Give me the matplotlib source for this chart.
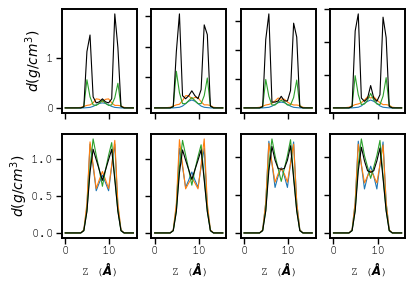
import matplotlib
matplotlib.use('Agg')
import matplotlib.pyplot as plt

plt.rcParams['font.family'] = ['Nimbus Mono PS', 'FreeMono', 'Courier New', 'Liberation Mono', 'DejaVu Sans Mono']

# z positions of the density bins (Angstrom)
z = [0.0, 0.7, 1.4, 2.1, 2.8, 3.5, 4.2, 4.9, 5.6, 6.3, 7.0, 7.7, 8.4,
     9.1, 9.8, 10.5, 11.2, 11.9, 12.6, 13.3, 14.0, 14.7, 15.4]

# top row: densities of the separate components
blue_top = [
    [0, 0, 0, 0, 0, 0, 0, 0.005, 0.01, 0.03, 0.06, 0.09, 0.1, 0.09, 0.06, 0.03, 0.01, 0.005, 0, 0, 0, 0, 0],
    [0, 0, 0, 0, 0, 0, 0, 0.005, 0.01, 0.03, 0.07, 0.11, 0.13, 0.11, 0.07, 0.03, 0.01, 0.005, 0, 0, 0, 0, 0],
    [0, 0, 0, 0, 0, 0, 0, 0.005, 0.01, 0.03, 0.06, 0.09, 0.1, 0.09, 0.06, 0.03, 0.01, 0.005, 0, 0, 0, 0, 0],
    [0, 0, 0, 0, 0, 0, 0, 0.005, 0.01, 0.03, 0.07, 0.1, 0.12, 0.1, 0.07, 0.03, 0.01, 0.005, 0, 0, 0, 0, 0],
]
orange_top = [
    [0, 0, 0, 0, 0.005, 0.01, 0.03, 0.05, 0.06, 0.1, 0.18, 0.17, 0.12, 0.17, 0.18, 0.1, 0.05, 0.05, 0.04, 0.01, 0.005, 0, 0],
    [0, 0, 0, 0, 0.005, 0.01, 0.03, 0.05, 0.06, 0.12, 0.2, 0.2, 0.15, 0.17, 0.17, 0.1, 0.05, 0.05, 0.04, 0.01, 0.005, 0, 0],
    [0, 0, 0, 0, 0.005, 0.01, 0.03, 0.05, 0.06, 0.08, 0.12, 0.17, 0.15, 0.15, 0.1, 0.07, 0.05, 0.05, 0.04, 0.01, 0.005, 0, 0],
    [0, 0, 0, 0, 0.005, 0.01, 0.03, 0.05, 0.06, 0.08, 0.12, 0.17, 0.15, 0.17, 0.12, 0.08, 0.05, 0.05, 0.04, 0.01, 0.005, 0, 0],
]
green_top = [
    [0, 0, 0, 0, 0, 0, 0.02, 0.56, 0.22, 0.06, 0.05, 0.09, 0.15, 0.09, 0.05, 0.06, 0.2, 0.49, 0.03, 0, 0, 0, 0],
    [0, 0, 0, 0, 0, 0, 0.02, 0.6, 0.25, 0.07, 0.07, 0.12, 0.17, 0.12, 0.07, 0.07, 0.2, 0.49, 0.03, 0, 0, 0, 0],
    [0, 0, 0, 0, 0, 0, 0.02, 0.49, 0.2, 0.05, 0.05, 0.1, 0.13, 0.1, 0.05, 0.05, 0.18, 0.48, 0.03, 0, 0, 0, 0],
    [0, 0, 0, 0, 0, 0, 0.02, 0.49, 0.2, 0.05, 0.06, 0.12, 0.22, 0.12, 0.06, 0.05, 0.18, 0.46, 0.03, 0, 0, 0, 0],
]
black_top = [
    [0, 0, 0, 0, 0, 0, 0.02, 1.12, 1.45, 0.22, 0.1, 0.12, 0.18, 0.12, 0.1, 0.18, 1.87, 1.2, 0.03, 0, 0, 0, 0],
    [0, 0, 0, 0, 0, 0, 0.02, 0.92, 1.54, 0.2, 0.15, 0.2, 0.28, 0.2, 0.15, 0.3, 1.36, 1.2, 0.03, 0, 0, 0, 0],
    [0, 0, 0, 0, 0, 0, 0.02, 1.18, 1.62, 0.1, 0.1, 0.12, 0.2, 0.12, 0.12, 0.3, 1.46, 1.22, 0.02, 0, 0, 0, 0],
    [0, 0, 0, 0, 0, 0, 0.02, 1.17, 1.43, 0.15, 0.1, 0.15, 0.34, 0.15, 0.1, 0.2, 1.38, 1.07, 0.02, 0, 0, 0, 0],
]

# bottom row: water densities
blue_bot = [
    [0, 0, 0, 0, 0, 0, 0.04, 0.35, 1.2, 0.9, 0.57, 0.68, 0.78, 0.68, 0.57, 0.9, 1.2, 0.35, 0.04, 0, 0, 0, 0],
    [0, 0, 0, 0, 0, 0, 0.04, 0.35, 1.15, 0.9, 0.62, 0.72, 0.83, 0.72, 0.62, 0.9, 1.15, 0.35, 0.04, 0, 0, 0, 0],
    [0, 0, 0, 0, 0, 0, 0.04, 0.4, 1.21, 0.92, 0.6, 0.75, 0.86, 0.75, 0.6, 0.92, 1.2, 0.4, 0.04, 0, 0, 0, 0],
    [0, 0, 0, 0, 0, 0, 0.04, 0.4, 1.21, 0.9, 0.58, 0.75, 0.88, 0.75, 0.58, 0.9, 1.2, 0.4, 0.04, 0, 0, 0, 0],
]
orange_bot = [
    [0, 0, 0, 0, 0, 0, 0.04, 0.4, 1.23, 0.92, 0.6, 0.72, 0.83, 0.72, 0.6, 0.92, 1.25, 0.4, 0.04, 0, 0, 0, 0],
    [0, 0, 0, 0, 0, 0, 0.04, 0.4, 1.27, 0.93, 0.6, 0.68, 0.75, 0.68, 0.6, 0.93, 1.28, 0.4, 0.04, 0, 0, 0, 0],
    [0, 0, 0, 0, 0, 0, 0.04, 0.4, 1.18, 0.92, 0.67, 0.78, 0.85, 0.78, 0.67, 0.92, 1.17, 0.4, 0.04, 0, 0, 0, 0],
    [0, 0, 0, 0, 0, 0, 0.04, 0.4, 1.17, 0.9, 0.66, 0.75, 0.82, 0.75, 0.66, 0.9, 1.16, 0.4, 0.04, 0, 0, 0, 0],
]
green_bot = [
    [0, 0, 0, 0, 0, 0, 0.03, 0.3, 0.88, 1.27, 1.05, 0.85, 0.63, 0.85, 1.05, 1.22, 0.75, 0.3, 0.03, 0, 0, 0, 0],
    [0, 0, 0, 0, 0, 0, 0.03, 0.3, 0.9, 1.26, 1.06, 0.86, 0.65, 0.86, 1.04, 1.2, 0.75, 0.3, 0.03, 0, 0, 0, 0],
    [0, 0, 0, 0, 0, 0, 0.03, 0.3, 0.9, 1.24, 1.02, 0.85, 0.68, 0.85, 1.02, 1.23, 0.75, 0.3, 0.03, 0, 0, 0, 0],
    [0, 0, 0, 0, 0, 0, 0.03, 0.3, 0.9, 1.24, 1.02, 0.87, 0.72, 0.87, 1.02, 1.22, 0.75, 0.3, 0.03, 0, 0, 0, 0],
]
black_bot = [
    [0, 0, 0, 0, 0, 0, 0.03, 0.29, 0.82, 1.13, 0.99, 0.85, 0.71, 0.85, 0.99, 1.13, 0.72, 0.29, 0.03, 0, 0, 0, 0],
    [0, 0, 0, 0, 0, 0, 0.03, 0.29, 0.82, 1.13, 0.99, 0.86, 0.73, 0.86, 0.99, 1.13, 0.72, 0.29, 0.03, 0, 0, 0, 0],
    [0, 0, 0, 0, 0, 0, 0.03, 0.29, 0.82, 1.14, 0.96, 0.85, 0.84, 0.85, 0.96, 1.15, 0.72, 0.29, 0.03, 0, 0, 0, 0],
    [0, 0, 0, 0, 0, 0, 0.03, 0.29, 0.82, 1.13, 0.95, 0.82, 0.8, 0.82, 0.95, 1.12, 0.72, 0.29, 0.03, 0, 0, 0, 0],
]

top_yticks = [[0, 1], [0, 0.5, 1.0, 1.5], [0, 0.5, 1.0, 1.5], [0, 0.5, 1.0, 1.5]]
bot_yticks = [0, 0.5, 1.0]

fig, axes = plt.subplots(2, 4, figsize=(4.15, 2.87), dpi=100, sharex=True)
fig.subplots_adjust(left=0.149, right=0.976, top=0.968, bottom=0.172, wspace=0.193, hspace=0.209)

lw = 0.8
for i in range(4):
    ax = axes[0, i]
    ax.plot(z, blue_top[i], color='C0', lw=lw)
    ax.plot(z, orange_top[i], color='C1', lw=lw)
    ax.plot(z, green_top[i], color='C2', lw=lw)
    ax.plot(z, black_top[i], color='k', lw=lw)
    ax.set_yticks(top_yticks[i])

    ax = axes[1, i]
    ax.plot(z, blue_bot[i], color='C0', lw=lw)
    ax.plot(z, orange_bot[i], color='C1', lw=lw)
    ax.plot(z, green_bot[i], color='C2', lw=lw)
    ax.plot(z, black_bot[i], color='k', lw=lw)
    ax.set_yticks(bot_yticks)
    ax.set_xlabel(r'Z ($\mathbfit{Å}$)', fontsize=8.5, labelpad=3)

for ax in axes.flat:
    ax.set_xticks([0, 10])
    ax.tick_params(labelsize=9, width=1.0, length=4, pad=2)
    for sp in ax.spines.values():
        sp.set_linewidth(1.4)
    if ax not in axes[:, 0]:
        ax.set_yticklabels([])

axes[0, 0].set_ylabel(r'$d(g/cm^3)$', fontsize=10, labelpad=1)
axes[1, 0].set_ylabel(r'$d(g/cm^3)$', fontsize=10, labelpad=1)

plt.savefig('out.png', dpi=100)
